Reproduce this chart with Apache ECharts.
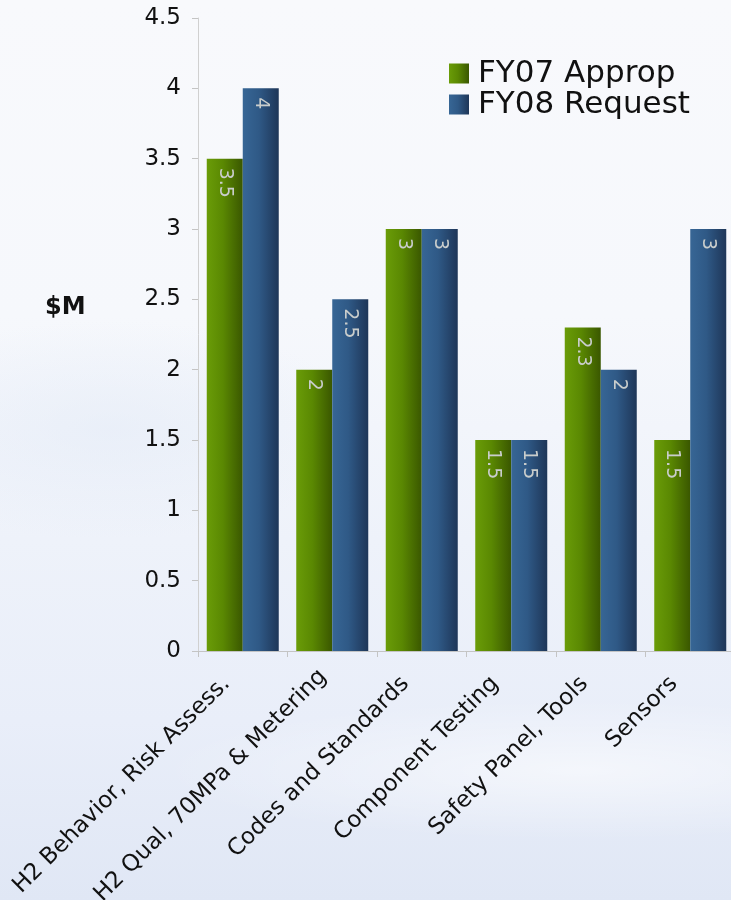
<!DOCTYPE html>
<html>
<head>
<meta charset="utf-8">
<script src="https://cdn.jsdelivr.net/npm/echarts@6/dist/echarts.min.js"></script>
<style>
html,body{margin:0;padding:0;width:731px;height:900px;overflow:hidden;}
body{
  background:
    radial-gradient(ellipse 260px 110px at 110px 430px, rgba(225,233,246,0.5), rgba(225,233,246,0) 100%),
    radial-gradient(ellipse 420px 70px at 580px 770px, rgba(255,255,255,0.55), rgba(255,255,255,0) 100%),
    linear-gradient(to bottom, #f8f9fc 0%, #f6f8fc 35%, #eef2fa 60%, #e9eef9 80%, #e0e7f5 100%);
}
#chart{width:731px;height:900px;}
</style>
</head>
<body>
<div id="chart"></div>
<script>
const categories = ["H2 Behavior, Risk Assess.", "H2 Qual, 70MPa & Metering", "Codes and Standards", "Component Testing", "Safety Panel, Tools", "Sensors"];
const fy07Approp = [3.5, 2, 3, 1.5, 2.3, 1.5];
const fy08Request = [4, 2.5, 3, 1.5, 2, 3];
const seriesNames = ["FY07 Approp", "FY08 Request"];

const FONT = "'DejaVu Sans', sans-serif";
const chart = echarts.init(document.getElementById('chart'), null, {renderer: 'canvas'});

function grad(stops) {
  return {type: 'linear', x: 0, y: 0, x2: 1, y2: 0, colorStops: stops};
}
const greenGrad = grad([{offset: 0, color: '#6a9c08'}, {offset: 0.45, color: '#5a8802'}, {offset: 1, color: '#3a5700'}]);
const blueGrad = grad([{offset: 0, color: '#376695'}, {offset: 0.45, color: '#2f5986'}, {offset: 1, color: '#1e3658'}]);

const labelCfg = {
  show: true,
  position: 'insideTop',
  distance: 9,
  rotate: -90,
  align: 'left',
  verticalAlign: 'middle',
  color: '#c9cdcc',
  fontFamily: FONT,
  fontSize: 19
};

const catText = {fontSize: 23, color: '#111', fontFamily: FONT};

chart.setOption({
  backgroundColor: 'transparent',
  animation: false,
  textStyle: {fontFamily: FONT},
  graphic: [{
    type: 'text', left: 45, top: 296,
    style: {text: '$M', font: 'bold 24px ' + FONT, fill: '#111'}
  }],
  legend: {
    orient: 'vertical',
    left: 444, top: 53,
    itemWidth: 20, itemHeight: 20,
    itemGap: 0,
    icon: 'rect',
    textStyle: {fontSize: 31, color: '#111', fontFamily: FONT, padding: [0, 0, 0, 4], lineHeight: 29},
    data: seriesNames
  },
  grid: {left: 198, top: 18, width: 537, height: 633, outerBoundsMode: 'none', containLabel: false},
  xAxis: {
    type: 'category',
    data: categories,
    axisLine: {lineStyle: {color: '#c4c4c4', width: 1}},
    axisTick: {show: true, length: 6, lineStyle: {color: '#c4c4c4'}},
    axisLabel: {
      rotate: 45, fontSize: 23, color: '#111', fontFamily: FONT, margin: 13, interval: 0,
      formatter: function (v, i) { return (i === 1 ? '{b|' : '{a|') + v + '}'; },
      rich: {
        a: Object.assign({padding: [0, 23, 0, 0]}, catText),
        b: Object.assign({padding: [0, 13, 0, 0]}, catText)
      }
    },
    splitLine: {show: false}
  },
  yAxis: {
    type: 'value',
    min: 0, max: 4.5, interval: 0.5,
    axisLine: {show: true, lineStyle: {color: '#d0d0d0', width: 1}},
    axisTick: {show: true, length: 6, lineStyle: {color: '#c4c4c4'}},
    axisLabel: {fontSize: 23, color: '#111', fontFamily: FONT, margin: 17},
    splitLine: {show: false}
  },
  series: [
    {name: seriesNames[0], type: 'bar', data: fy07Approp, barWidth: 36, barGap: '0%',
     itemStyle: {color: greenGrad}, label: labelCfg},
    {name: seriesNames[1], type: 'bar', data: fy08Request, barWidth: 36, barGap: '0%',
     itemStyle: {color: blueGrad}, label: labelCfg}
  ]
});
</script>
</body>
</html>
